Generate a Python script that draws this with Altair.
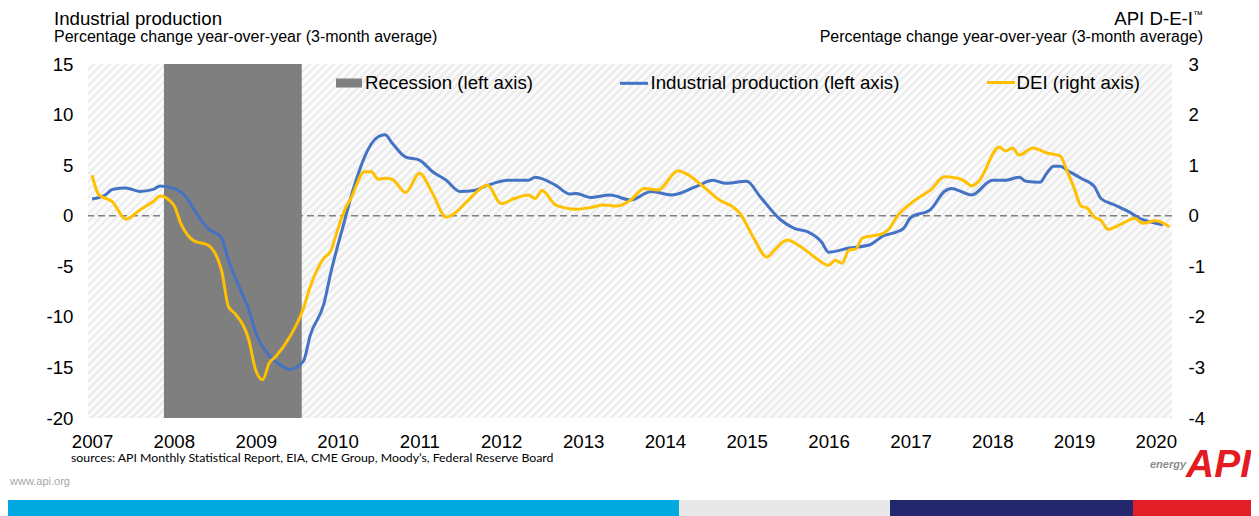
import altair as alt
import pandas as pd

FONT = "Liberation Sans"

# ---- data ----
ip_dates = ["2007-01-01","2007-03-01","2007-04-01","2007-06-01","2007-08-01","2007-10-01","2007-11-01",
            "2008-01-01","2008-03-01","2008-04-01","2008-06-01","2008-08-01","2008-09-01","2008-11-01","2008-12-01",
            "2009-01-01","2009-03-01","2009-05-01","2009-06-01","2009-08-01","2009-09-01","2009-11-01","2009-12-01",
            "2010-02-01","2010-03-01","2010-04-01","2010-05-01","2010-07-01","2010-08-01","2010-09-01","2010-11-01",
            "2011-01-01","2011-03-01","2011-05-01","2011-07-01","2011-09-01","2011-11-01",
            "2012-02-01","2012-05-01","2012-06-01","2012-09-01","2012-11-01","2012-12-01",
            "2013-02-01","2013-05-01","2013-08-01","2013-11-01",
            "2014-02-01","2014-06-01","2014-08-01","2014-10-01",
            "2015-01-01","2015-03-01","2015-06-01","2015-08-01","2015-10-01","2015-12-01",
            "2016-01-01","2016-04-01","2016-07-01","2016-09-01","2016-11-01","2016-12-01",
            "2017-01-01","2017-04-01","2017-06-01","2017-07-01","2017-10-01",
            "2018-01-01","2018-03-01","2018-05-01","2018-06-01","2018-08-01","2018-09-01","2018-10-01","2018-11-01","2018-12-01",
            "2019-02-01","2019-04-01","2019-05-01","2019-07-01","2019-09-01","2019-11-01",
            "2020-01-01","2020-02-01"]
ip_values = [1.65,2.05,2.6,2.74,2.4,2.6,2.94,
             2.7,1.7,0.56,-1.25,-2.2,-4.4,-7.7,-9.3,
             -11.6,-13.8,-14.9,-15.2,-14.4,-11.8,-8.7,-5.7,
             -0.5,1.8,4.0,5.8,7.8,8.0,7.2,5.8,
             5.5,4.35,3.5,2.4,2.5,3.0,
             3.5,3.5,3.8,3.0,2.15,2.2,
             1.8,2.05,1.55,2.4,
             2.05,3.0,3.5,3.2,
             3.4,1.9,-0.4,-1.25,-1.6,-2.6,
             -3.6,-3.2,-2.9,-2.0,-1.6,-1.25,
             -0.2,0.63,2.4,2.7,2.05,
             3.5,3.5,3.8,3.4,3.3,4.2,4.9,4.9,4.5,
             3.7,2.9,1.7,1.06,0.4,-0.36,
             -0.75,-0.9]

dei_dates = ["2007-01-01","2007-02-01","2007-04-01","2007-06-01","2007-08-01","2007-10-01","2007-11-01",
             "2008-01-01","2008-02-01","2008-04-01","2008-06-01","2008-08-01","2008-09-01","2008-10-01","2008-12-01",
             "2009-01-01","2009-02-01","2009-03-01","2009-04-01","2009-06-01","2009-08-01","2009-09-01","2009-11-01","2009-12-01",
             "2010-01-01","2010-02-01","2010-03-01","2010-05-01","2010-06-01","2010-07-01","2010-08-01","2010-09-01","2010-11-01",
             "2011-01-01","2011-03-01","2011-05-01","2011-06-01","2011-08-01","2011-11-01",
             "2012-01-01","2012-03-01","2012-05-01","2012-06-01","2012-07-01","2012-09-01","2012-12-01",
             "2013-02-01","2013-04-01","2013-06-01","2013-08-01","2013-10-01","2013-12-01",
             "2014-03-01","2014-04-01","2014-07-01","2014-09-01","2014-11-01","2014-12-01",
             "2015-02-01","2015-04-01","2015-05-01","2015-07-01","2015-09-01","2015-11-01",
             "2016-01-01","2016-02-01","2016-03-01","2016-04-01","2016-05-01","2016-06-01","2016-09-01","2016-10-01","2016-11-01",
             "2017-01-01","2017-02-01","2017-04-01","2017-06-01","2017-08-01","2017-09-01","2017-10-01","2017-11-01",
             "2018-02-01","2018-03-01","2018-04-01","2018-05-01","2018-07-01","2018-09-01","2018-11-01","2018-12-01",
             "2019-01-01","2019-02-01","2019-03-01","2019-04-01","2019-05-01","2019-06-01","2019-08-01","2019-10-01","2019-11-01",
             "2020-01-01","2020-03-01"]
dei_values = [0.80,0.41,0.28,-0.07,0.11,0.28,0.39,
              0.21,-0.15,-0.50,-0.58,-1.08,-1.80,-1.94,-2.46,
              -3.06,-3.24,-2.92,-2.78,-2.40,-1.84,-1.40,-0.84,-0.70,
              -0.28,0.11,0.34,0.87,0.87,0.72,0.74,0.72,0.46,
              0.84,0.44,-0.03,0.03,0.28,0.60,
              0.24,0.34,0.41,0.34,0.50,0.21,0.13,
              0.16,0.21,0.19,0.31,0.54,0.51,
              0.89,0.84,0.54,0.31,0.17,0.05,
              -0.44,-0.82,-0.70,-0.48,-0.62,-0.82,
              -0.98,-0.88,-0.94,-0.68,-0.66,-0.44,-0.35,-0.24,-0.02,
              0.24,0.34,0.51,0.77,0.74,0.68,0.59,0.68,
              1.36,1.28,1.34,1.20,1.34,1.24,1.18,0.88,
              0.55,0.19,0.15,-0.03,-0.09,-0.27,-0.16,-0.05,-0.15,
              -0.10,-0.22]

recession_start = ["2007-11-18"]
recession_end = ["2009-07-25"]

left_ticks = [-20, -15, -10, -5, 0, 5, 10, 15]
right_ticks = [-4, -3, -2, -1, 0, 1, 2, 3]

# ---- chart ----
W, H = 1084, 354
BLUE = "#4472C4"
GOLD = "#FFC000"
HYPHEN_LABEL = "datum.value < 0 ? '-' + abs(datum.value) : '' + datum.value"

ip_df = pd.DataFrame({"date": ip_dates, "value": ip_values})
dei_df = pd.DataFrame({"date": dei_dates, "value": dei_values})
rec_df = pd.DataFrame({"start": recession_start, "end": recession_end})
one = pd.DataFrame({"k": [0]})

xscale = alt.Scale(type="utc", nice=False,
                   domain=[alt.DateTime(year=2006, month=12, date=14, utc=True),
                           alt.DateTime(year=2020, month=3, date=13, utc=True)])
xaxis = alt.Axis(title=None, grid=False, domain=False, ticks=False,
                 tickCount=alt.TimeIntervalStep(interval="year", step=1),
                 labelExpr="utcFormat(datum.value, '%Y')",
                 labelFont=FONT, labelFontSize=18.67, labelColor="#000000",
                 labelBaseline="alphabetic", labelPadding=29.5, labelFlush=False,
                 labelOverlap=False)
yl_scale = alt.Scale(domain=[-20, 15], nice=False, zero=False)
yr_scale = alt.Scale(domain=[-4, 3], nice=False, zero=False)
yl_axis = alt.Axis(title=None, values=left_ticks, grid=False, domain=False, ticks=False,
                   labelExpr=HYPHEN_LABEL,
                   labelFont=FONT, labelFontSize=18.67, labelColor="#000000", labelPadding=15)
yr_axis = alt.Axis(title=None, values=right_ticks, grid=False, domain=False, ticks=False,
                   orient="right", labelExpr=HYPHEN_LABEL,
                   labelFont=FONT, labelFontSize=18.67, labelColor="#000000",
                   labelPadding=16)

# hatched plot background (diagonal stripes via a hard-stop gradient)
N = 180
stops = []
for k in range(N):
    a, b, c = k / N, (k + 0.55) / N, (k + 1) / N
    stops += [{"offset": a, "color": "#fbfbfb"}, {"offset": b, "color": "#fbfbfb"},
              {"offset": b, "color": "#ececec"}, {"offset": c, "color": "#ececec"}]
r = H / W
ga = (1 + r) / (1 + r * r)
grad = {"gradient": "linear", "x1": 0, "y1": 0, "x2": ga, "y2": ga * r, "stops": stops}

bg = alt.Chart(one).mark_rect(fill=grad).encode(
    x=alt.value(0), x2=alt.value(W), y=alt.value(0), y2=alt.value(H))

zero = alt.Chart(one).mark_rule(color="#808080", strokeWidth=1.6, strokeDash=[7, 4]).encode(
    y=alt.Y(datum=0, scale=yl_scale, axis=yl_axis))

rec = alt.Chart(rec_df).mark_rect(color="#7f7f7f").encode(
    x=alt.X("start:T", scale=xscale, axis=xaxis), x2="end:T",
    y=alt.Y(datum=15, scale=yl_scale, axis=yl_axis), y2=alt.datum(-20))

ip_line = alt.Chart(ip_df).mark_line(color=BLUE, strokeWidth=3, interpolate="monotone").encode(
    x=alt.X("date:T", scale=xscale, axis=xaxis),
    y=alt.Y("value:Q", scale=yl_scale, axis=yl_axis))

dei_line = alt.Chart(dei_df).mark_line(color=GOLD, strokeWidth=3, interpolate="monotone").encode(
    x=alt.X("date:T", scale=xscale, axis=xaxis),
    y=alt.Y("value:Q", scale=yr_scale, axis=yr_axis))


def txt(s, x, y, size, align="left", color="#000000", font=FONT, **kw):
    return alt.Chart(one).mark_text(text=s, align=align, baseline="alphabetic", fontSize=size,
                                    font=font, color=color, **kw).encode(
        x=alt.value(x), y=alt.value(y))


def box(x1, x2, y1, y2, color):
    return alt.Chart(one).mark_rect(color=color).encode(
        x=alt.value(x1), x2=alt.value(x2), y=alt.value(y1), y2=alt.value(y2))


def seg(x1, x2, y, color):
    return alt.Chart(one).mark_rule(color=color, strokeWidth=3).encode(
        x=alt.value(x1), x2=alt.value(x2), y=alt.value(y))


decor = [
    txt("Industrial production", -34, -39.2, 18.67),
    txt("Percentage change year-over-year (3-month average)", -34, -22.3, 16),
    txt("API D-E-I", 1105, -39.2, 18.67, align="right"),
    txt("™", 1115, -46, 10, align="right"),
    txt("Percentage change year-over-year (3-month average)", 1115, -22.3, 16, align="right"),
    # legend
    box(248, 274, 14.5, 23.5, "#7f7f7f"),
    txt("Recession (left axis)", 277, 24.7, 18.67),
    seg(532, 560, 19.3, BLUE),
    txt("Industrial production (left axis)", 562.5, 24.7, 18.67),
    seg(899, 927, 18.5, GOLD),
    txt("DEI (right axis)", 928.5, 24.7, 18.67),
    # footer
    txt("sources: API Monthly Statistical Report, EIA, CME Group, Moody\u2019s, Federal Reserve Board",
        -17, 397.5, 12.3, font="Lato"),
    txt("www.api.org", -78, 421, 11, color="#a6a6a6"),
    txt("energy", 1098, 404, 11, align="right", color="#8c8c8c", fontStyle="italic", fontWeight="bold"),
    txt("API", 1098, 413, 39, color="#e31b23", fontStyle="italic", fontWeight="bold"),
    # bottom colour band
    box(-80, 591, 436, 452, "#00a9e0"),
    box(591, 802, 436, 452, "#e8e8e8"),
    box(802, 1045, 436, 452, "#23276b"),
    box(1045, 1163, 436, 452, "#e21f26"),
]

left = alt.layer(bg, zero, rec, ip_line, *decor)
chart = alt.layer(left, dei_line).resolve_scale(y="independent").properties(
    width=W, height=H,
    autosize=alt.AutoSizeParams(type="none"),
    padding={"left": 80, "top": 56, "right": 79, "bottom": 98},
).configure_view(stroke=None)

chart.save("out.html", embed_options={"renderer": "svg", "actions": False})
